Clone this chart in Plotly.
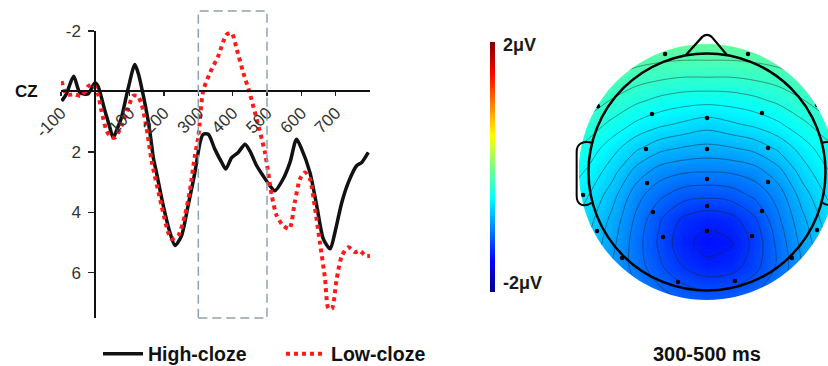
import plotly.graph_objects as go

# ---------------- ERP waveform data (CZ) ----------------
high_t = [-98, -85, -63, -45, -21, -1, 8, 28, 40, 52, 65, 76, 96, 115, 125, 135, 154, 162, 169,
          178, 198, 217, 232, 251, 270, 290, 305, 314, 329, 348, 368, 380, 397, 416, 436, 450,
          470, 489, 509, 523, 547, 567, 586, 601, 625, 645, 664, 684, 698, 718, 737, 761, 776, 795]
high_v = [0.32, 0.1, -0.5, 0.04, 0.08, -0.29, -0.17, 0.65, 1.1, 1.53, 1.2, 0.87, -0.12, -0.89, -0.6,
          -0.12, 0.98, 1.6, 2.2, 2.68, 3.79, 4.66, 5.1, 4.78, 3.79, 2.68, 1.69, 1.42, 1.42, 1.91,
          2.35, 2.57, 2.19, 2.02, 1.75, 1.97, 2.46, 2.8, 3.13, 3.29, 2.9, 2.35, 1.58, 1.91, 2.68,
          3.79, 4.88, 5.21, 4.66, 3.67, 3.01, 2.46, 2.35, 2.02]

low_t = [-98, -84, -60, -40, -21, -6, 8, 18, 33, 45, 57, 76, 96, 110, 123, 135, 149, 164, 193,
         212, 222, 241, 261, 275, 290, 300, 314, 334, 358, 382, 397, 412, 431, 448, 470, 494,
         514, 528, 547, 565, 581, 596, 611, 625, 640, 654, 669, 679, 689, 703, 718, 737, 756,
         771, 786, 800]
low_v = [-0.34, 0.1, 0.1, 0.15, -0.17, -0.23, 0.1, 0.65, 1.31, 1.5, 1.53, 1.14, 0.54, 0.15, 0.15,
         0.43, 1.2, 2.3, 3.79, 4.66, 4.88, 4.78, 4.1, 3.3, 2.13, 1.5, -0.01, -0.62, -1.17, -1.88,
         -1.93, -1.39, -0.62, -0.01, 0.92, 2.02, 3.45, 4.11, 4.44, 4.55, 3.67, 2.9, 2.68, 2.9,
         3.89, 4.99, 6.2, 7.19, 7.19, 6.2, 5.44, 5.16, 5.32, 5.27, 5.44, 5.44]

x_tick_vals = [-100, 100, 200, 300, 400, 500, 600, 700]
x_tick_text = ["-100", "100", "200", "300", "400", "500", "600", "700"]
y_tick_vals = [-2, 2, 4, 6]
y_tick_text = ["-2", "2", "4", "6"]
window = [300, 500]

# ---------------- Topographic map data (300-500 ms, μV) ----------------
topo_x = [-1.2, -1.0, -0.8, -0.6, -0.4, -0.2, 0.0, 0.2, 0.4, 0.6, 0.8, 1.0, 1.2]
topo_y = [-1.2, -1.0, -0.8, -0.6, -0.4, -0.2, 0.0, 0.2, 0.4, 0.6, 0.8, 1.0, 1.2]
row_m12 = [-0.72, -0.78, -0.86, -0.94, -1.0, -1.05, -1.07, -1.07, -1.04, -0.98, -0.88, -0.78, -0.72]
row_m10 = [-0.7, -0.78, -0.88, -0.98, -1.08, -1.16, -1.2, -1.18, -1.12, -1.02, -0.9, -0.78, -0.7]
row_m08 = [-0.66, -0.75, -0.9, -1.04, -1.18, -1.3, -1.37, -1.35, -1.24, -1.08, -0.9, -0.75, -0.66]
row_m06 = [-0.6, -0.71, -0.87, -1.05, -1.22, -1.37, -1.44, -1.41, -1.27, -1.07, -0.87, -0.71, -0.6]
row_m04 = [-0.55, -0.66, -0.83, -1.02, -1.19, -1.32, -1.37, -1.34, -1.22, -1.02, -0.83, -0.66, -0.55]
row_m02 = [-0.5, -0.6, -0.76, -0.96, -1.08, -1.16, -1.18, -1.16, -1.08, -0.96, -0.76, -0.6, -0.5]
row_p00 = [-0.42, -0.52, -0.66, -0.84, -0.95, -0.99, -1.0, -0.99, -0.95, -0.84, -0.66, -0.52, -0.42]
row_p02 = [-0.36, -0.44, -0.56, -0.68, -0.77, -0.81, -0.83, -0.81, -0.77, -0.68, -0.56, -0.44, -0.36]
row_p04 = [-0.28, -0.34, -0.43, -0.52, -0.58, -0.62, -0.66, -0.62, -0.58, -0.52, -0.43, -0.34, -0.28]
row_p06 = [-0.2, -0.24, -0.31, -0.38, -0.43, -0.46, -0.47, -0.46, -0.43, -0.38, -0.31, -0.24, -0.2]
row_p08 = [-0.12, -0.15, -0.2, -0.25, -0.28, -0.3, -0.3, -0.3, -0.28, -0.25, -0.2, -0.15, -0.12]
row_p10 = [-0.05, -0.07, -0.1, -0.13, -0.15, -0.16, -0.16, -0.16, -0.15, -0.13, -0.1, -0.07, -0.05]
row_p12 = [0.0, -0.01, -0.02, -0.03, -0.04, -0.05, -0.05, -0.05, -0.04, -0.03, -0.02, -0.01, 0.0]
topo_z = [row_m12, row_m10, row_m08, row_m06, row_m04, row_m02, row_p00,
          row_p02, row_p04, row_p06, row_p08, row_p10, row_p12]

elec_x = [-0.354, 0.346, -0.92, 0.928, -0.464, 0.0, 0.464, -0.515, 0.0, 0.515, -0.506, 0.0, 0.515,
          -1.046, -0.456, 0.0, 0.464, -0.928, 0.928, -0.371, 0.0, 0.38, -0.717, 0.717, -0.245, 0.236]
elec_y = [0.996, 0.996, 0.555, 0.565, 0.489, 0.456, 0.498, 0.194, 0.194, 0.203, -0.093, -0.059, -0.084,
          -0.194, -0.338, -0.287, -0.329, -0.498, -0.489, -0.549, -0.498, -0.54, -0.726, -0.726, -0.928, -0.92]

scale_min, scale_max = -2, 2
scale_labels = ["2μV", "-2μV"]

FONT = "Liberation Sans, Arial, sans-serif"
W, H = 828, 366

jet = [[0, "rgb(0,0,140)"], [0.125, "rgb(0,0,255)"], [0.375, "rgb(0,255,255)"],
       [0.625, "rgb(255,255,0)"], [0.875, "rgb(255,0,0)"], [1, "rgb(128,0,0)"]]

# ---- layout geometry (pixels -> paper) ----
px_x0, px_x1 = 61, 370          # ERP plot horizontal extent
px_ytop, px_ybot = 31, 318      # ERP plot vertical extent
xr = [-100, 800]
yr = [7.5, -2]
dom_x = [px_x0 / W, px_x1 / W]
dom_y = [(H - px_ybot) / H, (H - px_ytop) / H]
yaxis_pos = dom_x[0] + (0 - xr[0]) / (xr[1] - xr[0]) * (dom_x[1] - dom_x[0])
xaxis_pos = dom_y[0] + (yr[0] - 0) / (yr[0] - yr[1]) * (dom_y[1] - dom_y[0])

# topomap subplot: 1 unit = 118.5 px, head centre at (707,172)
u = 118.5
cxp, cyp = 707, 172
t_px_x = [570, 828]
t_px_y = [25, 315]
t_dom_x = [t_px_x[0] / W, t_px_x[1] / W]
t_dom_y = [(H - t_px_y[1]) / H, (H - t_px_y[0]) / H]
t_xr = [(t_px_x[0] - cxp) / u, (t_px_x[1] - cxp) / u]
t_yr = [(cyp - t_px_y[1]) / u, (cyp - t_px_y[0]) / u]

fig = go.Figure()

fig.add_trace(go.Scatter(x=high_t, y=high_v, mode="lines", name="High-cloze",
                         line=dict(color="#111111", width=3.5, shape="spline", smoothing=0.7),
                         xaxis="x", yaxis="y"))
fig.add_trace(go.Scatter(x=low_t, y=low_v, mode="lines", name="Low-cloze",
                         line=dict(color="#ff1a1a", width=4, dash="dot", shape="spline", smoothing=0.7),
                         xaxis="x", yaxis="y"))

fig.add_trace(go.Contour(x=topo_x, y=topo_y, z=topo_z, xaxis="x2", yaxis="y2",
                         colorscale=jet, zmin=scale_min, zmax=scale_max, showscale=False,
                         contours=dict(coloring="heatmap", start=-2, end=2, size=0.1),
                         line=dict(color="rgba(30,30,30,0.65)", width=0.7, smoothing=1.0),
                         showlegend=False, hoverinfo="skip"))
fig.add_trace(go.Scatter(x=elec_x, y=elec_y, mode="markers", xaxis="x2", yaxis="y2",
                         marker=dict(color="#000", size=4.5), showlegend=False, hoverinfo="skip"))
fig.add_trace(go.Scatter(x=[0, 0], y=[0, 0], mode="markers", xaxis="x2", yaxis="y2",
                         showlegend=False, hoverinfo="skip",
                         marker=dict(size=1, opacity=0, color=[scale_min, scale_max],
                                     colorscale=jet, cmin=scale_min, cmax=scale_max, showscale=True,
                                     colorbar=dict(x=490 / W, xanchor="left", xpad=0, ypad=0,
                                                   thickness=5, len=250, lenmode="pixels",
                                                   y=(H - 167) / H, yanchor="middle",
                                                   outlinewidth=0,
                                                   tickvals=[1.95, -1.85], ticktext=scale_labels,
                                                   ticks="outside", ticklen=5,
                                                   tickcolor="rgba(0,0,0,0)",
                                                   tickfont=dict(family=FONT, size=18, color="#1a1a1a",
                                                                 weight="bold")))))


def circle_path(r):
    k = 0.5523 * r
    return (f"M {r},0 C {r},{k} {k},{r} 0,{r} C {-k},{r} {-r},{k} {-r},0 "
            f"C {-r},{-k} {-k},{-r} 0,{-r} C {k},{-r} {r},{-k} {r},0 Z")


mask = (f"M -2,-2 L 2,-2 L 2,2 L -2,2 Z " + circle_path(1.08))

shapes = [
    dict(type="rect", xref="x", yref="paper", x0=window[0], x1=window[1],
         y0=dom_y[0], y1=(H - 11) / H,
         line=dict(color="#8da1b0", width=1.5, dash="9px,5px"), layer="above"),
    dict(type="path", xref="x2", yref="y2", path=mask, fillcolor="white",
         line=dict(width=0), fillrule="evenodd", layer="above"),
    dict(type="circle", xref="x2", yref="y2", x0=-1, x1=1, y0=-1, y1=1,
         line=dict(color="black", width=2.5), layer="above"),
    dict(type="path", xref="x2", yref="y2",
         path="M -0.18,0.985 L -0.04,1.14 Q 0,1.175 0.04,1.14 L 0.17,0.985",
         line=dict(color="black", width=2.2), layer="above"),
    dict(type="path", xref="x2", yref="y2",
         path="M -0.965,0.245 C -1.04,0.27 -1.1,0.24 -1.1,0.17 L -1.1,-0.2 "
              "C -1.1,-0.28 -1.04,-0.3 -0.975,-0.26",
         line=dict(color="black", width=2), layer="above"),
    dict(type="path", xref="x2", yref="y2",
         path="M 0.965,0.245 C 1.04,0.27 1.1,0.24 1.1,0.17 L 1.1,-0.2 "
              "C 1.1,-0.28 1.04,-0.3 0.975,-0.26",
         line=dict(color="black", width=2), layer="above"),
]

annotations = [
    dict(text="CZ", xref="paper", yref="paper", x=26 / W, y=(H - 92) / H,
         showarrow=False, xanchor="center", yanchor="middle",
         font=dict(family=FONT, size=17, color="#111", weight="bold")),
    dict(text="300-500 ms", xref="paper", yref="paper", x=707 / W, y=(H - 354) / H,
         showarrow=False, xanchor="center", yanchor="middle",
         font=dict(family=FONT, size=20, color="#111", weight="bold")),
]

fig.update_layout(
    width=W, height=H, margin=dict(l=0, r=0, t=0, b=0, autoexpand=False),
    paper_bgcolor="white", plot_bgcolor="rgba(0,0,0,0)",
    font=dict(family=FONT),
    xaxis=dict(domain=dom_x, range=xr, anchor="free", position=xaxis_pos,
               tickvals=x_tick_vals, ticktext=x_tick_text, tickangle=-45,
               ticks="outside", ticklen=4, tickcolor="#222", tickwidth=1.5,
               showline=True, linecolor="#111", linewidth=2, showgrid=False, zeroline=False,
               tickfont=dict(family=FONT, size=17, color="#333")),
    yaxis=dict(domain=dom_y, range=yr, anchor="free", position=yaxis_pos,
               tickvals=y_tick_vals, ticktext=y_tick_text,
               ticks="outside", ticklen=6, tickcolor="#222", tickwidth=1.5,
               ticklabelstandoff=4,
               showline=True, linecolor="#111", linewidth=2, showgrid=False, zeroline=False,
               tickfont=dict(family=FONT, size=17, color="#333")),
    xaxis2=dict(domain=t_dom_x, range=t_xr, visible=False, anchor="y2"),
    yaxis2=dict(domain=t_dom_y, range=t_yr, visible=False, anchor="x2"),
    showlegend=True,
    legend=dict(orientation="h", x=98 / W, xanchor="left", y=(H - 354) / H, yanchor="middle",
                bgcolor="rgba(0,0,0,0)", entrywidth=128, itemwidth=40,
                font=dict(family=FONT, size=19.5, color="#111", weight="bold")),
    shapes=shapes, annotations=annotations,
)

fig.write_html("out.html", config={"staticPlot": True, "displayModeBar": False},
               post_script="document.body.style.margin='0px';document.body.style.overflow='hidden';")
